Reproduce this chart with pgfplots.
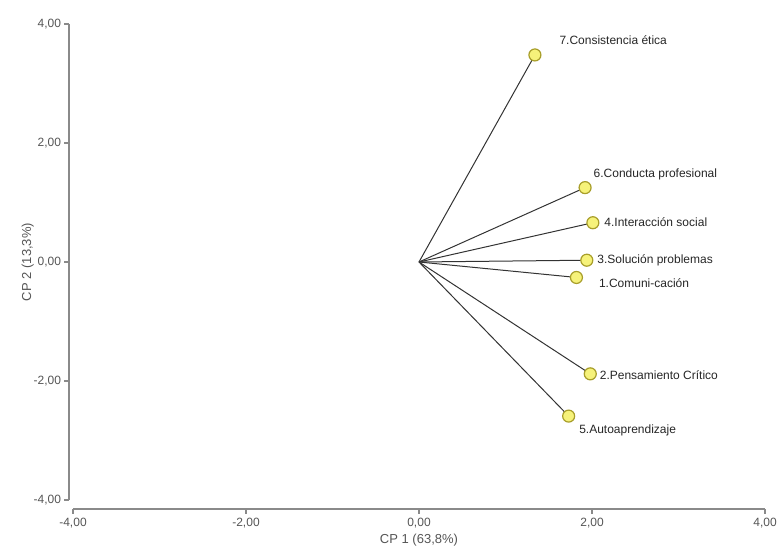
\documentclass[border=0pt]{standalone}
\usepackage{pgfplots}
\pgfplotsset{compat=1.18}
\usepackage{pgfplotstable}
\usepackage{fontspec}
\setmainfont{Liberation Sans}
\usetikzlibrary{calc}
\definecolor{ptfill}{HTML}{F6F27A}
\definecolor{ptedge}{HTML}{A89E2A}
\definecolor{axgray}{HTML}{8A8A8A}
\definecolor{txtgray}{HTML}{555555}
\pgfplotstableread{
x y label dx dy
1.34 3.48 {7.Consistencia ética} 12 7.5
1.92 1.25 {6.Conducta profesional} 4 6.5
2.01 0.66 {4.Interacción social} 5.5 0.5
1.94 0.03 {3.Solución problemas} 5 0
1.82 -0.26 {1.Comuni-cación} 11 -3
1.98 -1.88 {2.Pensamiento Crítico} 4.5 -0.5
1.73 -2.59 {5.Autoaprendizaje} 5 -7
}\loadings
\begin{document}
\begin{tikzpicture}
\begin{axis}[
  scale only axis,
  width=346pt, height=238pt,
  xmin=-4, xmax=4, ymin=-4, ymax=4,
  xtick={-4,-2,0,2,4}, ytick={-4,-2,0,2,4},
  axis lines=left,
  axis x line shift=4.5pt,
  axis y line shift=2pt,
  axis line style={-, draw=axgray, line width=0.8pt},
  tick style={draw=axgray, line width=0.6pt},
  tick align=outside,
  major tick length=2.5pt,
  ticklabel style={font=\fontsize{6}{7}\selectfont, text=txtgray},
  yticklabel style={xshift=2pt},
  xticklabel style={yshift=1.5pt},
  /pgf/number format/.cd, fixed, fixed zerofill, precision=2, use comma, assume math mode=true,
  /pgfplots/.cd,
  xlabel={CP 1 (63,8\%)}, ylabel={CP 2 (13,3\%)},
  label style={font=\fontsize{6.5}{7.5}\selectfont, text=txtgray},
  xlabel style={yshift=4pt},
  ylabel style={yshift=-7pt},
  clip=false,
]
\coordinate (bl) at (rel axis cs:0,0);
\coordinate (tr) at (rel axis cs:1,1);
\addplot[black!80, line width=0.5pt, quiver={u=\thisrow{x}, v=\thisrow{y}}]
  table[x expr=0, y expr=0] {\loadings};
\addplot[only marks, mark=*, mark size=3pt,
  mark options={fill=ptfill, draw=ptedge, line width=0.6pt},
  point meta=explicit symbolic,
  nodes near coords,
  visualization depends on={\thisrow{dx}\as\mydx},
  visualization depends on={\thisrow{dy}\as\mydy},
  every node near coord/.style={anchor=west, inner sep=0pt,
    xshift=\mydx pt, yshift=\mydy pt,
    font=\fontsize{6}{7}\selectfont, text=black!85},
] table[x=x, y=y, meta=label] {\loadings};
\end{axis}
\pgfresetboundingbox
\useasboundingbox ($(bl)+(-36.5pt,-23.5pt)$) rectangle ($(tr)+(7.5pt,12pt)$);
\end{tikzpicture}
\end{document}
